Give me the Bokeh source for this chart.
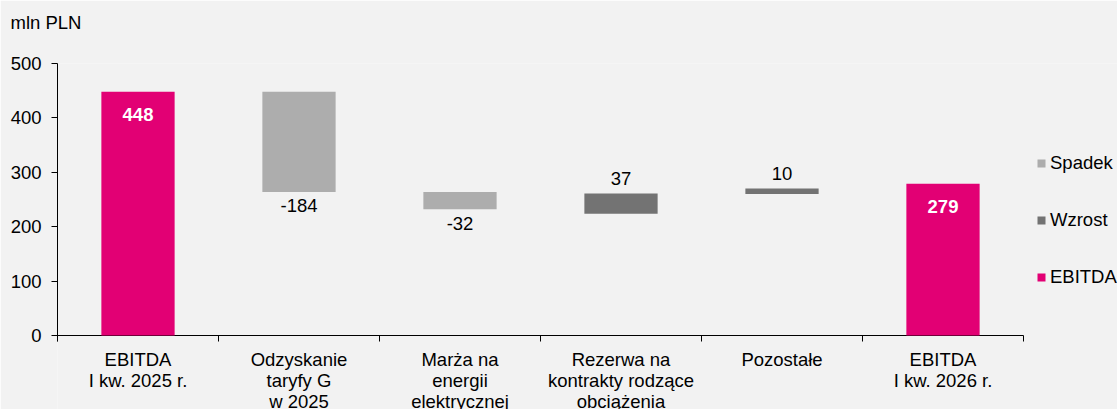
from bokeh.plotting import figure
from bokeh.models import (ColumnDataSource, Range1d, FixedTicker, Legend, LegendItem, Title)
from bokeh.embed import file_html
from bokeh.resources import INLINE
from bokeh.core.properties import value

# ---- data ----
categories = [
    "EBITDA\nI kw. 2025 r.",
    "Odzyskanie\ntaryfy G\nw 2025",
    "Marża na\nenergii\nelektrycznej",
    "Rezerwa na\nkontrakty rodzące\nobciążenia",
    "Pozostałe",
    "EBITDA\nI kw. 2026 r.",
]
values = [448, -184, -32, 37, 10, 279]
bar_start = [0, 448, 264, 224, 260, 0]      # level each bar starts from
kinds = ["EBITDA", "Spadek", "Spadek", "Wzrost", "Wzrost", "EBITDA"]
y_ticks = [0, 100, 200, 300, 400, 500]
y_max = 500
unit_label = "mln PLN"
legend_order = ["Spadek", "Wzrost", "EBITDA"]
colors = {"Spadek": "#ADADAD", "Wzrost": "#737373", "EBITDA": "#E20074"}

FONT = "Liberation Sans"
FS = "18.5px"

# ---- layout (pixels) ----
W, H = 1117, 409
LEFT, TOP = 57, 63
PLOT_W, PLOT_H = 966, 272          # width / height of the value area 0..n, 0..y_max
TICK = 6

n = len(categories)
px_x = PLOT_W / n
px_y = PLOT_H / y_max
x_end = (W - LEFT) / px_x
y_start = y_max - (H - TOP) / px_y
tick_units = TICK / px_y

xs = [i + 0.5 for i in range(n)]
bottoms = [s + v if v < 0 else s for s, v in zip(bar_start, values)]
tops = [s if v < 0 else s + v for s, v in zip(bar_start, values)]

p = figure(width=W, height=H, x_range=Range1d(0, x_end), y_range=Range1d(y_start, y_max),
           output_backend="svg", toolbar_location=None, title=unit_label,
           background_fill_color="#F2F2F2", border_fill_color="#F2F2F2",
           outline_line_color=None,
           min_border_left=LEFT, min_border_right=0, min_border_top=TOP, min_border_bottom=0)
p.grid.visible = False

# title (unit) with a spacer panel between it and the plot area
p.title.align = "left"
p.title.offset = -47
p.title.standoff = 0
p.title.text_font = FONT
p.title.text_font_size = FS
p.title.text_font_style = "normal"
p.title.text_color = "#000000"
p.add_layout(Title(text=" ", text_font_size="2px", standoff=27), "above")

# y axis
p.yaxis.ticker = FixedTicker(ticks=y_ticks)
p.yaxis.bounds = (-tick_units, y_max)
p.yaxis.major_tick_out = TICK
p.yaxis.major_tick_in = 0
p.yaxis.minor_tick_out = 0
p.yaxis.minor_tick_in = 0
p.yaxis.axis_line_color = "#000000"
p.yaxis.major_tick_line_color = "#000000"
p.yaxis.major_label_text_font = FONT
p.yaxis.major_label_text_font_size = FS
p.yaxis.major_label_text_color = "#000000"
p.yaxis.major_label_standoff = 10

# x axis drawn at value 0: base line, boundary ticks, category labels
p.xaxis.visible = False
p.segment(x0=[0], y0=[0], x1=[n], y1=[0], line_color="#000000", line_width=1)
bounds_x = list(range(n + 1))
p.segment(x0=bounds_x, y0=[0] * (n + 1), x1=bounds_x, y1=[-tick_units] * (n + 1),
          line_color="#000000", line_width=1)
p.text(x=xs, y=[0] * n, text=categories, text_align="center", text_baseline="top",
       y_offset=13, text_font=value(FONT), text_font_size=FS, text_color="#000000",
       text_line_height=1.0)

# bars
items = {}
for k in legend_order:
    idx = [i for i in range(n) if kinds[i] == k]
    src = ColumnDataSource(dict(x=[xs[i] for i in idx], b=[bottoms[i] for i in idx],
                                t=[tops[i] for i in idx]))
    r = p.vbar(x="x", bottom="b", top="t", width=0.455, source=src,
               fill_color=colors[k], line_color=None)
    items[k] = r

# value labels
def lab_src(kind):
    idx = [i for i in range(n) if kinds[i] == kind]
    return ColumnDataSource(dict(
        x=[xs[i] for i in idx],
        yt=[tops[i] for i in idx],
        yb=[bottoms[i] for i in idx],
        t=[str(values[i]) for i in idx]))

p.text(x="x", y="yt", text="t", source=lab_src("EBITDA"), text_align="center",
       text_baseline="alphabetic", y_offset=23, text_font=value(FONT),
       text_font_size=FS, text_font_style="bold", text_color="white")
p.text(x="x", y="yb", text="t", source=lab_src("Spadek"), text_align="center",
       text_baseline="alphabetic", y_offset=14, text_font=value(FONT),
       text_font_size=FS, text_color="#000000")
p.text(x="x", y="yt", text="t", source=lab_src("Wzrost"), text_align="center",
       text_baseline="alphabetic", y_offset=-15, text_font=value(FONT),
       text_font_size=FS, text_color="#000000")

# legend
legend = Legend(items=[LegendItem(label=k, renderers=[items[k]]) for k in legend_order],
                location=(979, 121), orientation="vertical",
                background_fill_alpha=0, border_line_color=None,
                padding=0, margin=0, spacing=35, glyph_width=10, glyph_height=10,
                label_height=20, label_standoff=4,
                label_text_font=FONT, label_text_font_size=FS, label_text_color="#000000")
p.add_layout(legend, "center")

open("out.html", "w").write(file_html(p, INLINE))
